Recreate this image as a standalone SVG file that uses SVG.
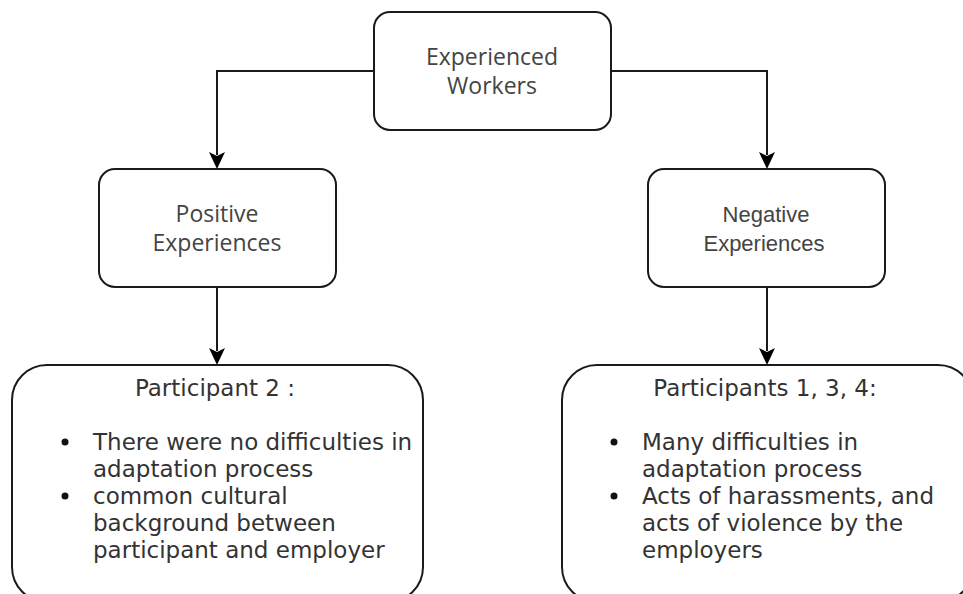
<svg xmlns="http://www.w3.org/2000/svg" width="963" height="594" viewBox="0 0 963 594">
<style>
.box{fill:#fff;stroke:#1a1a1a;stroke-width:2}
.edge{fill:none;stroke:#1a1a1a;stroke-width:2}
.head{fill:#000}
.lbl{font-family:"Open Sans","Noto Sans",sans-serif;font-size:23px;fill:#444;text-anchor:middle}
.lbl2{font-family:"Liberation Sans",Arial,sans-serif;font-size:22px;fill:#444;text-anchor:middle}
.body{font-family:"DejaVu Sans",Verdana,sans-serif;font-size:23px;fill:#333}
.dot{fill:#111}
</style>
<defs>
<path id="ah" class="head" d="M0,0 L-8,-17 L0,-13 L8,-17 Z"/>
</defs>
<rect width="963" height="594" fill="#fff"/>
<g id="connectors">
<path class="edge" d="M374,71 H217 V155"/>
<use href="#ah" x="217" y="169"/>
<path class="edge" d="M611,71 H767 V155"/>
<use href="#ah" x="767" y="169"/>
<path class="edge" d="M217,287 V351"/>
<use href="#ah" x="217" y="365"/>
<path class="edge" d="M767,287 V351"/>
<use href="#ah" x="767" y="365"/>
</g>
<g id="experienced-workers">
<rect class="box" x="374" y="12" width="237" height="118" rx="16"/>
<text class="lbl" x="492" y="65">Experienced</text>
<text class="lbl" x="492" y="94">Workers</text>
</g>
<g id="positive">
<rect class="box" x="99" y="169" width="237" height="118" rx="16"/>
<text class="lbl" x="217" y="222">Positive</text>
<text class="lbl" x="217" y="251">Experiences</text>
</g>
<g id="negative">
<rect class="box" x="648" y="169" width="237" height="118" rx="16"/>
<text class="lbl2" x="766" y="222">Negative</text>
<text class="lbl2" x="764" y="251">Experiences</text>
</g>
<g id="participant-2">
<rect class="box" x="12" y="365" width="411" height="237" rx="35"/>
<text class="body" x="215" y="396" text-anchor="middle">Participant 2 :</text>
<circle class="dot" cx="65" cy="442" r="3.5"/>
<circle class="dot" cx="65" cy="496" r="3.5"/>
<text class="body" x="93" y="450">There were no difficulties in</text>
<text class="body" x="93" y="477">adaptation process</text>
<text class="body" x="93" y="504">common cultural</text>
<text class="body" x="93" y="531">background between</text>
<text class="body" x="93" y="558">participant and employer</text>
</g>
<g id="participants-1-3-4">
<rect class="box" x="562" y="365" width="411" height="237" rx="35"/>
<text class="body" x="765" y="396" text-anchor="middle">Participants 1, 3, 4:</text>
<circle class="dot" cx="614" cy="442" r="3.5"/>
<circle class="dot" cx="614" cy="496" r="3.5"/>
<text class="body" x="642" y="450">Many difficulties in</text>
<text class="body" x="642" y="477">adaptation process</text>
<text class="body" x="642" y="504">Acts of harassments, and</text>
<text class="body" x="642" y="531">acts of violence by the</text>
<text class="body" x="642" y="558">employers</text>
</g>
</svg>
